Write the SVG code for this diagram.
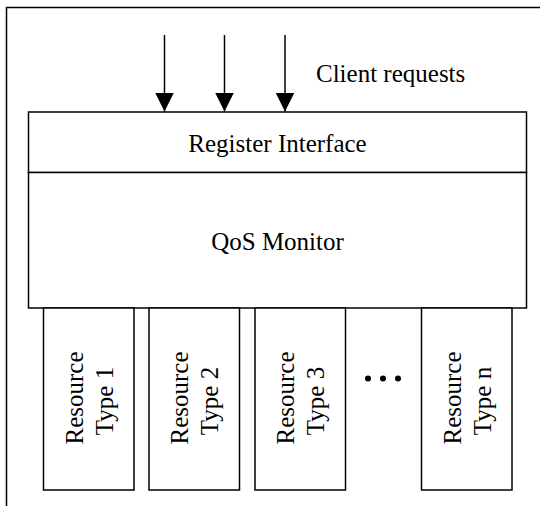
<svg xmlns="http://www.w3.org/2000/svg" width="540" height="506" viewBox="0 0 540 506">
<style>
.box{fill:#fff;stroke:#000;stroke-width:1.5}
.t{font-family:"Liberation Serif","Times New Roman",serif;font-size:25px;fill:#000}
.m{text-anchor:middle}
.ln{stroke:#000;stroke-width:1.5;fill:none}
</style>
<defs>
<marker id="ah" markerUnits="userSpaceOnUse" markerWidth="20" markerHeight="20" refX="19" refY="9.5" orient="auto" viewBox="0 0 20 19">
<path d="M0,0 L19,9.5 L0,19 Z" fill="#000"/>
</marker>
</defs>
<rect x="6.5" y="7.5" width="700" height="700" fill="#fff" stroke="#000" stroke-width="1.5"/>
<g id="connectors">
<line class="ln" x1="164.5" y1="35" x2="164.5" y2="111.5" marker-end="url(#ah)"/>
<line class="ln" x1="224.5" y1="35" x2="224.5" y2="111.5" marker-end="url(#ah)"/>
<line class="ln" x1="285" y1="35" x2="285" y2="111.5" marker-end="url(#ah)"/>
</g>
<text class="t" x="316" y="82">Client requests</text>
<g id="register-interface">
<rect class="box" x="28.5" y="112" width="498" height="60.5"/>
<text class="t m" x="277.5" y="152">Register Interface</text>
</g>
<g id="qos-monitor">
<rect class="box" x="28.5" y="172.5" width="498" height="135.5"/>
<text class="t m" x="277.5" y="250">QoS Monitor</text>
</g>
<g id="resource-1">
<rect class="box" x="43.5" y="308" width="90.5" height="182"/>
<text class="t m" transform="translate(82.5,398) rotate(-90)">Resource</text>
<text class="t m" transform="translate(112.5,401) rotate(-90)">Type 1</text>
</g>
<g id="resource-2">
<rect class="box" x="149" y="308" width="90.5" height="182"/>
<text class="t m" transform="translate(188,398) rotate(-90)">Resource</text>
<text class="t m" transform="translate(218,401) rotate(-90)">Type 2</text>
</g>
<g id="resource-3">
<rect class="box" x="255" y="308" width="90.5" height="182"/>
<text class="t m" transform="translate(294,398) rotate(-90)">Resource</text>
<text class="t m" transform="translate(324,401) rotate(-90)">Type 3</text>
</g>
<g id="ellipsis">
<circle cx="368" cy="378.5" r="3"/>
<circle cx="383" cy="378.5" r="3"/>
<circle cx="398" cy="378.5" r="3"/>
</g>
<g id="resource-n">
<rect class="box" x="421.5" y="308" width="90.5" height="182"/>
<text class="t m" transform="translate(460.5,398) rotate(-90)">Resource</text>
<text class="t m" transform="translate(490.5,401) rotate(-90)">Type n</text>
</g>
</svg>
